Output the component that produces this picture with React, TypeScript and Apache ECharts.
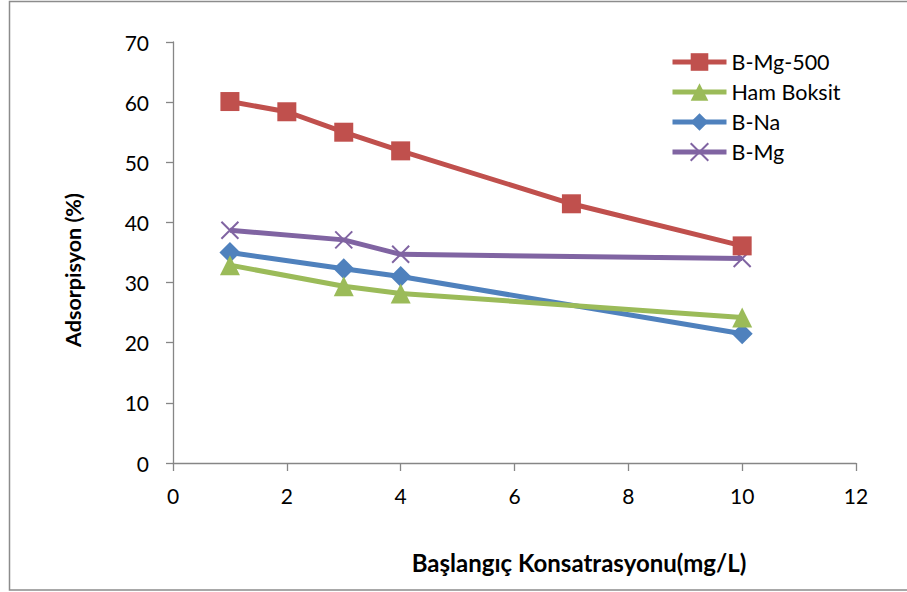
import React, { useEffect, useRef } from "react";
import * as echarts from "echarts";

// Initial concentration (mg/L) per series
const xMg500 = [1, 2, 3, 4, 7, 10];
const yMg500 = [60.1, 58.4, 55.0, 51.9, 43.1, 36.1];

const xHam = [1, 3, 4, 10];
const yHam = [32.9, 29.4, 28.2, 24.2];

const xNa = [1, 3, 4, 10];
const yNa = [35.0, 32.3, 31.0, 21.5];

const xMg = [1, 3, 4, 10];
const yMg = [38.7, 37.1, 34.7, 34.0];

const seriesNames = ["B-Mg-500", "Ham Boksit", "B-Na", "B-Mg"];
const colors = ["#C0504D", "#9BBB59", "#4F81BD", "#8064A2"];

const xTitle = "Başlangıç Konsatrasyonu(mg/L)";
const yTitle = "Adsorpisyon (%)";

const FONT = "Lato, 'Open Sans', sans-serif";
const CROSS = "path://M0,0 L10,10 M10,0 L0,10";

function pairs(xs: number[], ys: number[]) {
  return xs.map((x, i) => [x, ys[i]]);
}

export default function App() {
  const ref = useRef<HTMLDivElement>(null);

  useEffect(() => {
    if (!ref.current) return;
    const chart = echarts.init(ref.current, undefined, { renderer: "svg" });
    const axisGray = "#868686";
    const labelStyle = { color: "#000", fontFamily: FONT, fontSize: 21 };

    const mk = (
      idx: number,
      data: number[][],
      symbol: string,
      size: number,
      extraItem: Record<string, unknown> = {}
    ) => ({
      name: seriesNames[idx],
      type: "line",
      data,
      symbol,
      symbolSize: size,
      lineStyle: { color: colors[idx], width: 5 },
      itemStyle: { color: colors[idx], ...extraItem },
      z: 10 - idx,
    });

    chart.setOption({
      animation: false,
      backgroundColor: "#fff",
      grid: { left: 173, right: 51, top: 42, bottom: 129 },
      xAxis: {
        type: "value",
        min: 0,
        max: 12,
        interval: 2,
        axisLine: { lineStyle: { color: axisGray, width: 1.3 } },
        axisTick: { show: true, length: 8, lineStyle: { color: axisGray, width: 1.3 } },
        axisLabel: { ...labelStyle, margin: 22 },
        splitLine: { show: false },
      },
      yAxis: {
        type: "value",
        min: 0,
        max: 70,
        interval: 10,
        axisLine: { show: true, lineStyle: { color: axisGray, width: 1.3 } },
        axisTick: { show: true, length: 7, lineStyle: { color: axisGray, width: 1.3 } },
        axisLabel: { ...labelStyle, margin: 24 },
        splitLine: { show: false },
      },
      legend: {
        orient: "vertical",
        left: 670,
        top: 51,
        padding: 0,
        itemWidth: 54,
        itemHeight: 22,
        itemGap: 8,
        lineStyle: { width: 5 },
        textStyle: { ...labelStyle, fontSize: 21.5, lineHeight: 22 },
        data: seriesNames,
      },
      graphic: [
        {
          type: "rect",
          shape: { x: 9.5, y: 1.5, width: 920, height: 588.5 },
          style: { fill: "none", stroke: "#8C8C8C", lineWidth: 1.5 },
          silent: true,
          z: -1,
        },
        {
          type: "text",
          x: 73,
          y: 270,
          rotation: Math.PI / 2,
          style: {
            text: yTitle,
            fontFamily: FONT,
            fontSize: 21.5,
            fontWeight: "bold",
            fill: "#000",
            align: "center",
            verticalAlign: "middle",
          },
        },
        {
          type: "text",
          x: 579,
          y: 562,
          style: {
            text: xTitle,
            fontFamily: FONT,
            fontSize: 24,
            fontWeight: "bold",
            fill: "#000",
            align: "center",
            verticalAlign: "middle",
          },
        },
      ],
      series: [
        mk(0, pairs(xMg500, yMg500), "rect", 19),
        mk(1, pairs(xHam, yHam), "triangle", 20),
        mk(2, pairs(xNa, yNa), "diamond", 21),
        mk(3, pairs(xMg, yMg), CROSS, 17, { borderColor: colors[3], borderWidth: 2 }),
      ],
    });

    return () => chart.dispose();
  }, []);

  return (
    <div
      ref={ref}
      style={{ position: "fixed", left: 0, top: 0, width: 907, height: 592 }}
    />
  );
}
